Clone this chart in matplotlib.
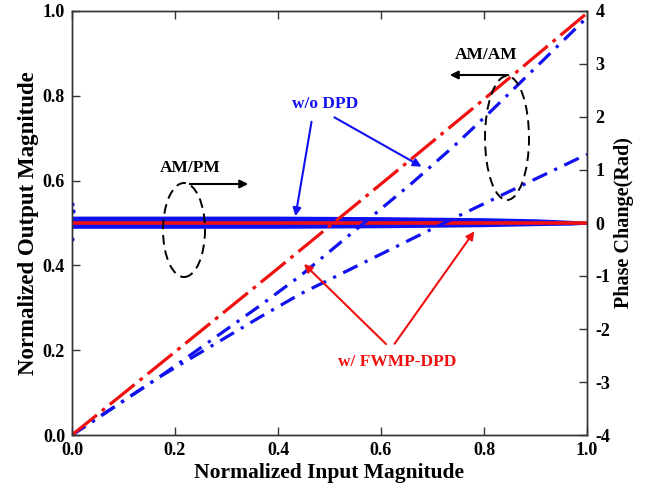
import matplotlib
matplotlib.use("Agg")
import matplotlib.pyplot as plt
from matplotlib.patches import Ellipse

plt.rcParams['font.family'] = ['Liberation Serif', 'DejaVu Serif']
plt.rcParams['font.weight'] = 'bold'

# ---------------- data ----------------
# AM/AM with FWMP-DPD (red)
amam_dpd_x = [0.0, 0.2, 0.4, 0.6, 0.8, 1.0]
amam_dpd_y = [0.0, 0.196, 0.393, 0.592, 0.792, 0.995]
# AM/AM without DPD: upper branch (blue)
amam_up_x = [0.0, 0.17, 0.365, 0.444, 0.662, 0.744, 0.812, 0.985, 1.0]
amam_up_y = [0.0, 0.137, 0.305, 0.376, 0.596, 0.684, 0.762, 0.967, 0.985]
# AM/AM without DPD: lower branch (blue)
amam_lo_x = [0.0, 0.17, 0.365, 0.444, 0.734, 0.876, 1.0]
amam_lo_y = [0.0, 0.137, 0.278, 0.333, 0.507, 0.590, 0.662]
# AM/PM without DPD: band of scattered phase (rad), upper / lower edges
ampm_band_x = [0.0, 0.2, 0.4, 0.6, 0.8, 0.9, 0.97, 1.0]
ampm_band_hi = [0.13, 0.13, 0.13, 0.12, 0.10, 0.08, 0.05, 0.03]
ampm_band_lo = [-0.10, -0.10, -0.10, -0.09, -0.07, -0.05, -0.04, -0.02]
ampm_out_x = [0.0, 0.0, 0.002]
ampm_out_y = [0.35, -0.30, 0.22]
# AM/PM with FWMP-DPD (red)
ampm_dpd_x = [0.0, 1.0]
ampm_dpd_y = [0.0, 0.0]

x_ticks = [0.0, 0.2, 0.4, 0.6, 0.8, 1.0]
yl_ticks = [0.0, 0.2, 0.4, 0.6, 0.8, 1.0]
yr_ticks = [-4, -3, -2, -1, 0, 1, 2, 3, 4]

# ---------------- figure ----------------
fig = plt.figure(figsize=(6.45, 4.9), dpi=100)
ax = fig.add_axes([72/645, 1-435/490, (587-72)/645, (435-11)/490])
ax2 = ax.twinx()

blue = '#1010f0'
red = '#f01010'

# AM/PM (right axis)
ax2.fill_between(ampm_band_x, ampm_band_lo, ampm_band_hi, color=blue, lw=0, zorder=2)
ax2.plot(ampm_out_x, ampm_out_y, 'o', color=blue, ms=2, zorder=2)
ax2.plot(ampm_dpd_x, ampm_dpd_y, color=red, lw=2.6, solid_capstyle='butt', zorder=3)

# AM/AM (left axis) on top
ax.set_zorder(ax2.get_zorder() + 1)
ax.patch.set_visible(False)
ax.plot(amam_up_x, amam_up_y, color=blue, lw=2.3, dashes=(5, 2.5, 1, 2.5))
ax.plot(amam_lo_x, amam_lo_y, color=blue, lw=2.3, dashes=(5, 2.5, 1, 2.5))
ax.plot(amam_dpd_x, amam_dpd_y, color=red, lw=2.3, dashes=(10, 2, 1.2, 2))

ax.set_xlim(0, 1)
ax.set_ylim(0, 1)
ax2.set_ylim(-4, 4)
ax.set_xticks(x_ticks)
ax.set_yticks(yl_ticks)
ax2.set_yticks(yr_ticks)
ax.set_xticklabels([f'{v:.1f}' for v in x_ticks])
ax.set_yticklabels([f'{v:.1f}' for v in yl_ticks])
ax2.set_yticklabels([str(v) for v in yr_ticks])

for a in (ax, ax2):
    for s in a.spines.values():
        s.set_linewidth(1.0)
        s.set_color('#333333')
ax.tick_params(axis='both', direction='in', length=6, width=1, labelsize=13, top=True, pad=5, color='#333333')
ax2.tick_params(axis='y', direction='in', length=6, width=1, labelsize=13, pad=6, color='#333333')
for lab in ax.get_xticklabels() + ax.get_yticklabels() + ax2.get_yticklabels():
    lab.set_fontweight('bold')

ax.set_xlabel('Normalized Input Magnitude', fontsize=15.5, fontweight='bold', labelpad=3)
ax.set_ylabel('Normalized Output Magnitude', fontsize=16.5, fontweight='bold', labelpad=3)
ax2.set_ylabel('Phase Change(Rad)', fontsize=14.5, fontweight='bold', labelpad=3)


def px(x, y):
    return ((x - 72) / 515, (435 - y) / 424)


# annotations
ax.text(*px(486, 55), 'AM/AM', ha='center', va='center', fontsize=12.5, fontweight='bold', color='black')
ax.annotate('', xy=px(447, 75), xytext=px(511, 75),
            arrowprops=dict(arrowstyle='-|>', color='black', lw=1.5, mutation_scale=12))
ax.add_patch(Ellipse(px(507, 138), 44 / 515, 124 / 424, angle=0, fill=False,
                     ls=(0, (5, 3)), lw=1.4, color='black', zorder=5))

ax.text(*px(190, 168), 'AM/PM', ha='center', va='center', fontsize=12.5, fontweight='bold', color='black')
ax.annotate('', xy=px(251, 184), xytext=px(187, 184),
            arrowprops=dict(arrowstyle='-|>', color='black', lw=1.5, mutation_scale=12))
ax.add_patch(Ellipse(px(184, 230), 42 / 515, 94 / 424, angle=0, fill=False,
                     ls=(0, (5, 3)), lw=1.4, color='black', zorder=5))

ax.text(*px(325, 104), 'w/o DPD', ha='center', va='center', fontsize=12.5, fontweight='bold', color=blue)
ax.annotate('', xy=px(295, 219), xytext=px(312, 119),
            arrowprops=dict(arrowstyle='-|>', color=blue, lw=1.5, mutation_scale=12))
ax.annotate('', xy=px(424, 168), xytext=px(332, 116),
            arrowprops=dict(arrowstyle='-|>', color=blue, lw=1.5, mutation_scale=12))

ax.text(*px(397, 362), 'w/ FWMP-DPD', ha='center', va='center', fontsize=12.5, fontweight='bold', color=red)
ax.annotate('', xy=px(302, 262), xytext=px(388, 346),
            arrowprops=dict(arrowstyle='-|>', color=red, lw=1.5, mutation_scale=12))
ax.annotate('', xy=px(476, 229), xytext=px(393, 346),
            arrowprops=dict(arrowstyle='-|>', color=red, lw=1.5, mutation_scale=12))

fig.savefig('out.png', dpi=100)
